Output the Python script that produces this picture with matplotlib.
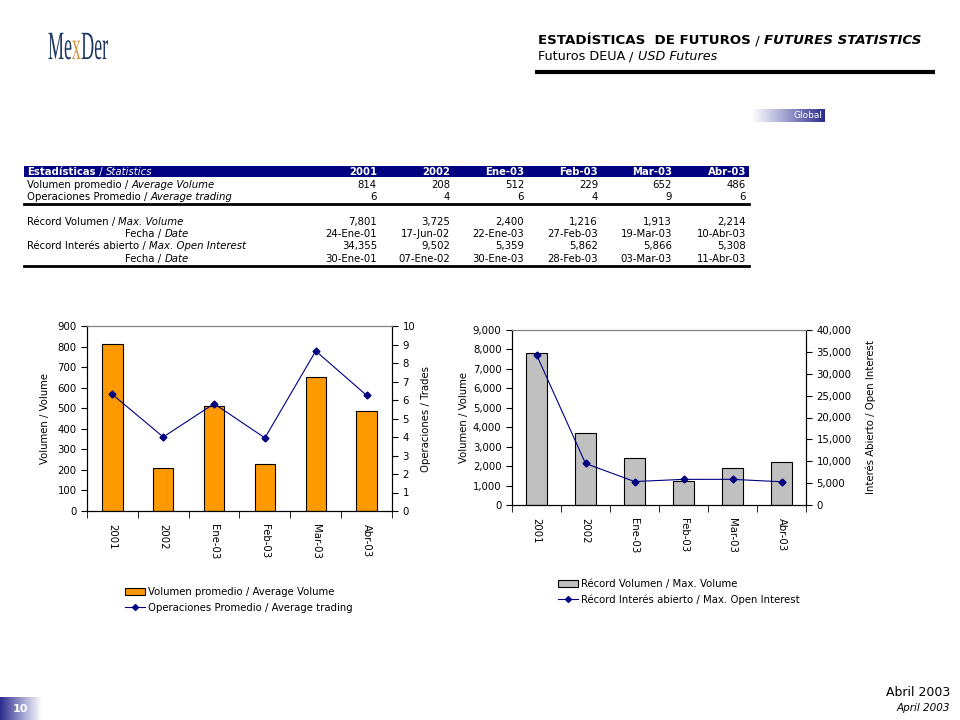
import numpy as np
import matplotlib
matplotlib.use("Agg")
import matplotlib.pyplot as plt
from matplotlib.lines import Line2D
from matplotlib.patches import Patch, Rectangle, PathPatch
from matplotlib.textpath import TextPath
from matplotlib.font_manager import FontProperties
from matplotlib.transforms import Affine2D
from matplotlib.ticker import FuncFormatter, MultipleLocator

# data read from the page
categories = ["2001", "2002", "Ene-03", "Feb-03", "Mar-03", "Abr-03"]
avg_volume = [814, 208, 512, 229, 652, 486]
avg_trading = [6.3, 4.0, 5.8, 3.95, 8.65, 6.25]
max_volume = [7801, 3725, 2400, 1216, 1913, 2214]
max_volume_date = ["24-Ene-01", "17-Jun-02", "22-Ene-03", "27-Feb-03", "19-Mar-03", "10-Abr-03"]
max_oi = [34355, 9502, 5359, 5862, 5866, 5308]
max_oi_date = ["30-Ene-01", "07-Ene-02", "30-Ene-03", "28-Feb-03", "03-Mar-03", "11-Abr-03"]

NAVY = "#000080"
ORANGE = "#FF9900"
GRAY = "#C0C0C0"
W, H = 960, 720

plt.rcParams['font.family'] = ['DejaVu Sans']
fig = plt.figure(figsize=(9.6, 7.2), dpi=100)
renderer = fig.canvas.get_renderer()

# background axes in pixel coordinates
bg = fig.add_axes([0, 0, 1, 1])
bg.set_xlim(0, W)
bg.set_ylim(H, 0)
bg.axis("off")


def rich(parts, x, y, size, color="black", **kw):
    """chain several text pieces with different styles on one line"""
    for txt, weight, style, *c in parts:
        t = bg.text(x, y, txt, fontsize=size, color=c[0] if c else color,
                    fontweight=weight, fontstyle=style, va="baseline", ha="left", **kw)
        x = t.get_window_extent(renderer).x1  # bg data x == pixel x
    return x


# logo, squeezed horizontally like the original
logo_font = FontProperties(family="Liberation Serif")
lx = 48
for part, col in [("Me", "#1F3864"), ("x", "#D9963C"), ("Der", "#1F3864")]:
    tp = TextPath((0, 0), part, size=40, prop=logo_font)
    tr = Affine2D().scale(0.45, -1).translate(lx, 59)
    path = tr.transform_path(tp)
    bg.add_patch(PathPatch(path, facecolor=col, edgecolor="none"))
    lx = path.get_extents().x1 + 0.5

# page header
rich([("ESTADÍSTICAS  DE FUTUROS", "bold", "normal"), (" / ", "normal", "normal"),
      ("FUTURES STATISTICS", "bold", "italic")], 538, 44, 9.6)
rich([("Futuros DEUA", "normal", "normal"), (" / ", "normal", "normal"),
      ("USD Futures", "normal", "italic")], 538, 60, 9.2)
bg.plot([535, 935], [72, 72], color="black", lw=3, solid_capstyle="butt")

# "Global" badge with gradient
grad = np.linspace(0, 1, 256).reshape(1, -1)
cm_badge = matplotlib.colors.LinearSegmentedColormap.from_list("b", ["white", "#9999CC", "#2B2B8C"])
bg.imshow(grad, extent=(752, 825, 122, 109), cmap=cm_badge, aspect="auto")
bg.text(822, 116, "Global", fontsize=6.5, color="white", ha="right", va="center")

# page number badge
bg.imshow(grad[:, ::-1], extent=(0, 42, 720, 697), cmap=cm_badge, aspect="auto")
bg.text(20, 709, "10", fontsize=8, color="white", fontweight="bold", ha="center", va="center")

bg.text(950, 693, "Abril 2003", fontsize=9, ha="right", va="center")
bg.text(950, 708, "April 2003", fontsize=7.5, fontstyle="italic", ha="right", va="center")

# statistics table
col_right = [377, 450, 524, 598, 672, 746]
tsize = 7.3
bg.add_patch(Rectangle((24, 166), 725, 11, color=NAVY, lw=0))
rich([("Estadísticas", "bold", "normal"), (" / ", "normal", "normal"),
      ("Statistics", "normal", "italic")], 27, 175, tsize, color="white")
for xr, cat in zip(col_right, categories):
    bg.text(xr, 175, cat, fontsize=tsize, color="white", fontweight="bold", ha="right", va="baseline")

rich([("Volumen promedio / ", "normal", "normal"), ("Average Volume", "normal", "italic")], 27, 188, tsize)
rich([("Operaciones Promedio / ", "normal", "normal"), ("Average trading", "normal", "italic")], 27, 200, tsize)
for xr, v, t in zip(col_right, avg_volume, avg_trading):
    bg.text(xr, 188, f"{v:,}", fontsize=tsize, ha="right", va="baseline")
    bg.text(xr, 200, f"{round(t)}", fontsize=tsize, ha="right", va="baseline")
bg.plot([24, 749], [204, 204], color="black", lw=2)

rich([("Récord Volumen / ", "normal", "normal"), ("Max. Volume", "normal", "italic")], 27, 225, tsize)
rich([("Fecha / ", "normal", "normal"), ("Date", "normal", "italic")], 125, 237, tsize)
rich([("Récord Interés abierto / ", "normal", "normal"), ("Max. Open Interest", "normal", "italic")], 27, 249, tsize)
rich([("Fecha / ", "normal", "normal"), ("Date", "normal", "italic")], 125, 262, tsize)
for xr, v, d, o, od in zip(col_right, max_volume, max_volume_date, max_oi, max_oi_date):
    bg.text(xr, 225, f"{v:,}", fontsize=tsize, ha="right", va="baseline")
    bg.text(xr, 237, d, fontsize=tsize, ha="right", va="baseline")
    bg.text(xr, 249, f"{o:,}", fontsize=tsize, ha="right", va="baseline")
    bg.text(xr, 262, od, fontsize=tsize, ha="right", va="baseline")
bg.plot([24, 749], [266, 266], color="black", lw=2)


def style_axes(ax, ax2):
    x = np.arange(len(categories))
    ax.set_xlim(-0.5, len(categories) - 0.5)
    ax.set_xticks(x)
    ax.set_xticklabels(categories, rotation=-90, fontsize=7.3)
    ax.tick_params(axis="x", which="major", length=0, pad=9)
    ax.set_xticks(np.arange(-0.5, len(categories)), minor=True)
    ax.tick_params(axis="x", which="minor", length=5, direction="out")
    ax.tick_params(axis="y", labelsize=7.3, length=4, direction="out")
    ax2.tick_params(axis="y", labelsize=7.3, length=4, direction="out")
    for a in (ax, ax2):
        a.spines["top"].set_color("#808080")
        a.spines["top"].set_linewidth(0.8)
        for s in ("left", "right", "bottom"):
            a.spines[s].set_linewidth(0.8)


# left chart: average volume / trading
ax1 = fig.add_axes([87 / W, 1 - 511 / H, 305 / W, 185 / H])
ax1b = ax1.twinx()
x = np.arange(len(categories))
ax1.bar(x, avg_volume, width=0.4, color=ORANGE, edgecolor="black", linewidth=0.8)
ax1b.plot(x, avg_trading, color=NAVY, lw=0.8, marker="D", markersize=3.5)
ax1.set_ylim(0, 900)
ax1.yaxis.set_major_locator(MultipleLocator(100))
ax1b.set_ylim(0, 10)
ax1b.yaxis.set_major_locator(MultipleLocator(1))
ax1.set_ylabel("Volumen / Volume", fontsize=7.3, labelpad=5)
ax1b.set_ylabel("Operaciones / Trades", fontsize=7.3, labelpad=4)
style_axes(ax1, ax1b)

h1 = [Patch(facecolor=ORANGE, edgecolor="black", linewidth=0.8),
      Line2D([], [], color=NAVY, lw=0.8, marker="D", markersize=3)]
fig.legend(h1, ["Volumen promedio / Average Volume", "Operaciones Promedio / Average trading"],
           loc="upper left", bbox_to_anchor=(120 / W, 1 - 582 / H), frameon=False,
           fontsize=7.3, handlelength=2, handleheight=0.8, labelspacing=0.55,
           handletextpad=0.3, borderpad=0)

# right chart: records
ax2 = fig.add_axes([512 / W, 1 - 505 / H, 294 / W, 175 / H])
ax2b = ax2.twinx()
ax2.bar(x, max_volume, width=0.42, color=GRAY, edgecolor="black", linewidth=0.8)
ax2b.plot(x, max_oi, color=NAVY, lw=0.8, marker="D", markersize=3.5)
ax2.set_ylim(0, 9000)
ax2.yaxis.set_major_locator(MultipleLocator(1000))
ax2b.set_ylim(0, 40000)
ax2b.yaxis.set_major_locator(MultipleLocator(5000))
comma = FuncFormatter(lambda v, p: f"{int(v):,}")
ax2.yaxis.set_major_formatter(comma)
ax2b.yaxis.set_major_formatter(comma)
ax2.set_ylabel("Volumen / Volume", fontsize=7.3, labelpad=3)
ax2b.set_ylabel("Interés Abierto / Open Interest", fontsize=7.3, labelpad=10)
style_axes(ax2, ax2b)

h2 = [Patch(facecolor=GRAY, edgecolor="black", linewidth=0.8),
      Line2D([], [], color=NAVY, lw=0.8, marker="D", markersize=3)]
fig.legend(h2, ["Récord Volumen / Max. Volume", "Récord Interés abierto / Max. Open Interest"],
           loc="upper left", bbox_to_anchor=(553 / W, 1 - 574 / H), frameon=False,
           fontsize=7.3, handlelength=2, handleheight=0.8, labelspacing=0.55,
           handletextpad=0.3, borderpad=0)

fig.savefig("out.png", dpi=100)
